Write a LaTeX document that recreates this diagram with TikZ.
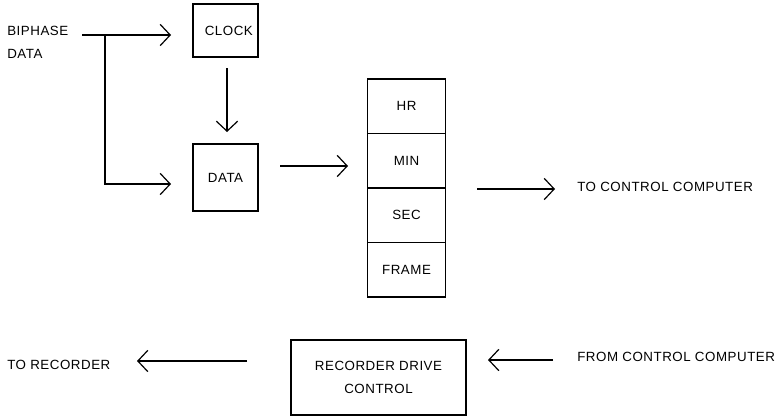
\documentclass[tikz,border=0pt]{standalone}
\usepackage{fontspec}
\setmainfont{Liberation Sans}[LetterSpace=4]
\usetikzlibrary{arrows.meta}
\begin{document}
\begin{tikzpicture}[x=0.75pt,y=-0.75pt,
  lbl/.style={inner sep=0pt,font=\fontsize{10}{14}\selectfont,align=left},
  box/.style={draw,line width=0.9pt,inner sep=0pt,font=\fontsize{10}{14}\selectfont,align=center},
  reg/.style={box,minimum width=58.5pt,minimum height=40.9pt},
  arr/.style={line width=0.9pt,-{Straight Barb[length=7.5pt,width=16pt,line width=0.9pt]}},
  ln/.style={line width=0.9pt}]
\useasboundingbox (0,0) rectangle (784,418);
% boxes
\node[box,minimum width=48.75pt,minimum height=39.75pt] (clock) at (225.5,30.5) {\hspace*{5pt}CLOCK};
\node[box,minimum width=48.75pt,minimum height=50.25pt] (data) at (225.5,177.5) {DATA};
\node[reg] (hr) at (406.5,106.25) {HR};
\node[reg] (min) at (406.5,160.75) {MIN};
\node[reg] (sec) at (406.5,215.25) {SEC};
\node[reg] (frame) at (406.5,269.75) {FRAME};
\node[box,minimum width=131.25pt,minimum height=56.25pt] (rdc) at (378.5,377.5) {RECORDER DRIVE\\[3pt]CONTROL};
% labels
\node[lbl,anchor=west] (bip) at (7,42.5) {BIPHASE\\[3pt]DATA};
\node[lbl,anchor=west] (tcc) at (577,187) {TO CONTROL COMPUTER};
\node[lbl,anchor=west] (tor) at (7,365) {TO RECORDER};
\node[lbl,anchor=west] (fcc) at (577,357) {FROM CONTROL COMPUTER};
% coordinates
\coordinate (s) at (82,35);
\coordinate (j) at (105,35);
\coordinate (jb) at (105,184);
\coordinate (t1) at (171,35);
\coordinate (t2) at (171,184);
\coordinate (c0) at (227,68);
\coordinate (c1) at (227,132);
\coordinate (d0) at (280,166);
\coordinate (d1) at (348,166);
\coordinate (o0) at (477,189);
\coordinate (o1) at (555,189);
\coordinate (f0) at (553,360);
\coordinate (f1) at (488,360);
\coordinate (r0) at (247,361);
\coordinate (r1) at (137,361);
% connectors
\draw[arr] (s) -- (t1);
\draw[arr] (j) -- (jb) -- (t2);
\draw[arr] (c0) -- (c1);
\draw[arr] (d0) -- (d1);
\draw[arr] (o0) -- (o1);
\draw[arr] (f0) -- (f1);
\draw[arr] (r0) -- (r1);
\end{tikzpicture}
\end{document}
